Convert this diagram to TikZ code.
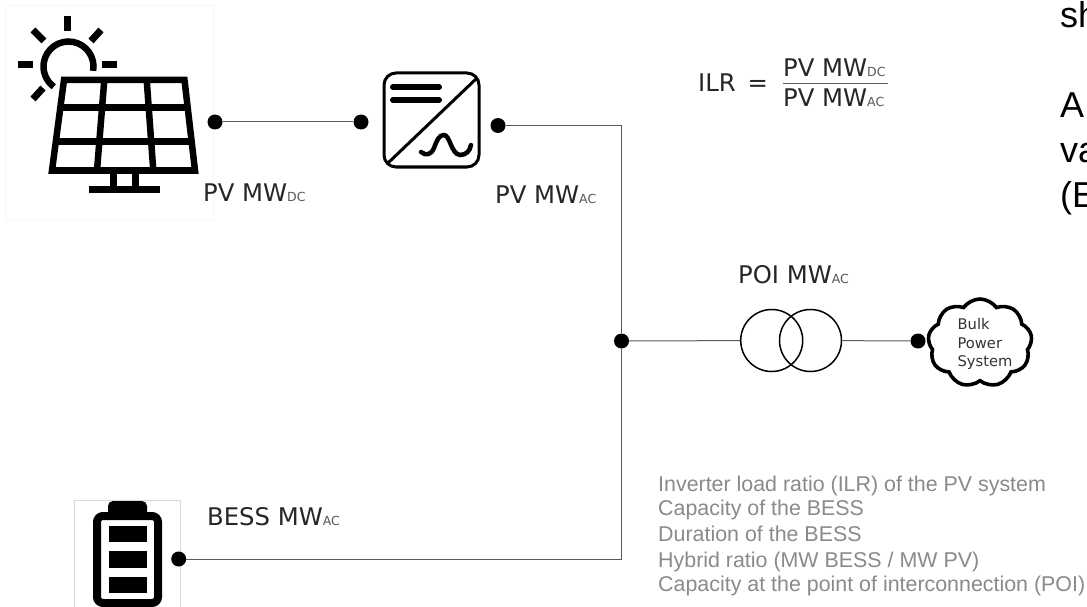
\documentclass[tikz,border=0pt]{standalone}
\usepackage{fontspec}
\setmainfont{DejaVu Sans}
\newfontfamily\greyfont{Liberation Sans}
\usetikzlibrary{shapes.symbols}
\definecolor{wirecol}{HTML}{5A5A5A}
\definecolor{notecol}{HTML}{8A8A8A}
\newcommand{\mwtext}[2]{{\fontsize{24.3}{24}\selectfont #1}{\fontsize{12.5}{13}\selectfont\color{black!65}#2}}
\tikzset{
    every edge/.style={ % Sets the properties for each wire
        draw,
        wirecol,
        line width=1pt
    },
    dot/.style={circle, fill=black, inner sep=0pt, minimum size=15pt},
    mwlabel/.style={anchor=base west, inner sep=0pt, text=black!85},
    notelabel/.style={anchor=base west, inner sep=0pt, text=notecol, font=\greyfont\fontsize{21.4}{22}\selectfont},
    cutlabel/.style={anchor=base west, inner sep=0pt, font=\greyfont\fontsize{36}{36}\selectfont},
    iconline/.style={line width=6.5pt, black},
    panelbg/.style={draw=black!#1, fill=white, line width=0.7pt},
    xformer/.style={circle, draw=black, line width=1.5pt, minimum size=62pt, inner sep=0pt}
}
\begin{document}
\begin{tikzpicture}[x=1pt,y=-1pt]
    \useasboundingbox (0,0) rectangle (1087,607);
    \clip (0,0) rectangle (1087,607);
    \fill[white] (0,0) rectangle (1087,607);

    % icon backgrounds
    \path[panelbg=3] (5,5) rectangle (213,220);
    \path[panelbg=15] (74.5,500.5) rectangle (180,620);

    % sun
    \draw[iconline] (68.5,66.5) ++(10:25) arc[start angle=10, end angle=-234, radius=25];
    \foreach \xa/\ya/\xb/\yb in {67.7/16/67.7/31, 33/30/44/41, 101/30/91/41, 18/65/33/65, 102/65/117/65, 43/88/33/99}
        \draw[line width=7pt] (\xa,\ya) -- (\xb,\yb);

    % solar panel
    \draw[iconline, fill=white, miter limit=10] (64,80) -- (184.5,80) -- (195,170.5) -- (52,170.5) -- cycle;
    \draw[iconline] (60,107.7) -- (188,107.7);
    \draw[iconline] (56,141.7) -- (191.5,141.7);
    \draw[iconline] (104.3,80) -- (97,170.5);
    \draw[iconline] (146.7,80) -- (153.3,170.5);
    \draw[iconline] (113.5,170) -- (113.5,189);
    \draw[iconline] (135.5,170) -- (135.5,189);
    \draw[iconline] (89,189.5) -- (160,189.5);

    % inverter
    \draw[line width=3pt, rounded corners=12pt] (384,73) rectangle (479,167);
    \draw[line width=3pt] (477,78) -- (388,163);
    \draw[line width=6pt, line cap=round] (393,87) -- (439,87);
    \draw[line width=6pt, line cap=round] (393,100) -- (439,100);
    \draw[line width=4.5pt, line cap=round] (421,152) .. controls (426,156) and (431,155) .. (434,148)
        .. controls (437,140) and (439,135) .. (444,135) .. controls (450,135) and (451,154) .. (460,155)
        .. controls (466,155) and (470,151) .. (471,145);

    % battery
    \fill[rounded corners=5pt] (108,501) rectangle (147,520);
    \draw[line width=8pt, rounded corners=6pt, fill=white] (97,516) rectangle (158,603);
    \fill (109,526) rectangle (147,542);
    \fill (109,551) rectangle (147,568);
    \fill (109,577) rectangle (147,593);

    % connection points
    \node[dot] (pvdc) at (215,122) {};
    \node[dot] (invin) at (361,122) {};
    \node[dot] (invout) at (498,125.5) {};
    \node[dot] (bus) at (621.5,341) {};
    \node[dot] (bess) at (178.7,559) {};

    \node[xformer] (xfa) at (771.7,340.5) {};
    \node[xformer] (xfb) at (810.5,340.5) {};
    \node[cloud, draw=black, line width=3.6pt, fill=white, cloud puffs=9, cloud puff arc=110,
        aspect=1.15, minimum width=104pt, minimum height=88pt, inner sep=0pt] (bps) at (980,343) {};
    \node[align=left, inner sep=0pt, font=\fontsize{14.7}{18.5}\selectfont, text=black!80] (bpstext) at (985,344) {Bulk\\Power\\System};
    \node[dot] (grid) at (918,341) {};

    \draw (pvdc) edge (invin);
    \draw (bus) edge (xfa);
    \draw (xfb) edge (grid);
    \draw[wirecol, line width=1pt] (invout) -| (bus);
    \draw[wirecol, line width=1pt] (bus) |- (bess);

    % labels
    \node[mwlabel] (lblpvdc) at (203,201.5) {\mwtext{PV MW}{DC}};
    \node[mwlabel] (lblpvac) at (495,204) {\mwtext{PV MW}{AC}};
    \node[mwlabel] (lblpoi) at (738,283) {\mwtext{POI MW}{AC}};
    \node[mwlabel] (lblbess) at (207,525) {\mwtext{BESS MW}{AC}};

    % ratio
    \node[mwlabel] (ilr) at (698,92) {\fontsize{24.3}{24}\selectfont ILR\, =};
    \node[mwlabel] (ilrnum) at (783,77) {\mwtext{PV MW}{DC}};
    \node[mwlabel] (ilrden) at (783,107) {\mwtext{PV MW}{AC}};
    \draw[wirecol, line width=1.2pt] (ilrnum.base west) ++(0,6.3) -- ++(105,0);

    % list
    \node[notelabel] (note1) at (658,491) {Inverter load ratio (ILR) of the PV system};
    \node[notelabel] (note2) at (658,515) {Capacity of the BESS};
    \node[notelabel] (note3) at (658,541.5) {Duration of the BESS};
    \node[notelabel] (note4) at (658,567.5) {Hybrid ratio (MW BESS / MW PV)};
    \node[notelabel] (note5) at (658,591.5) {Capacity at the point of interconnection (POI)};

    % text running off the page
    \node[cutlabel] (cuta) at (1060,28) {sh};
    \node[cutlabel] (cutb) at (1060,118) {A};
    \node[cutlabel] (cutc) at (1060,163) {va};
    \node[cutlabel] (cutd) at (1060,207) {(E};
\end{tikzpicture}
\end{document}
